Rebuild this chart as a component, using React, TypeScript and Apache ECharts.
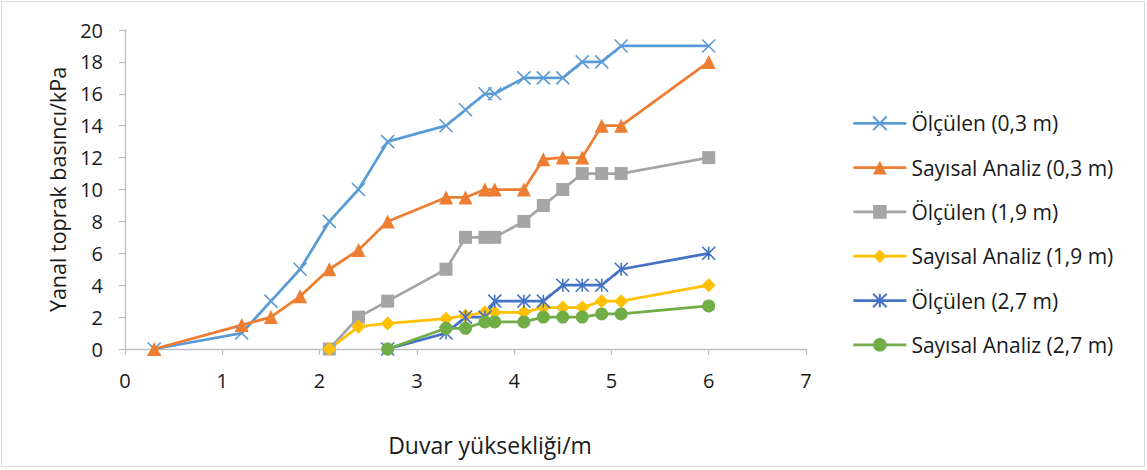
import React, { useEffect, useRef } from "react";
import * as echarts from "echarts";

const xS1 = [0.3, 1.2, 1.5, 1.8, 2.1, 2.4, 2.7, 3.3, 3.5, 3.7, 3.8, 4.1, 4.3, 4.5, 4.7, 4.9, 5.1, 6];
const olculen03 = [0, 1, 3, 5, 8, 10, 13, 14, 15, 16, 16, 17, 17, 17, 18, 18, 19, 19];
const sayisal03 = [0, 1.5, 2, 3.3, 5, 6.2, 8, 9.5, 9.5, 10, 10, 10, 11.9, 12, 12, 14, 14, 18];

const xS19 = [2.1, 2.4, 2.7, 3.3, 3.5, 3.7, 3.8, 4.1, 4.3, 4.5, 4.7, 4.9, 5.1, 6];
const olculen19 = [0, 2, 3, 5, 7, 7, 7, 8, 9, 10, 11, 11, 11, 12];
const sayisal19 = [0, 1.4, 1.6, 1.9, 2.1, 2.3, 2.3, 2.3, 2.6, 2.6, 2.6, 3, 3, 4];

const xS27 = [2.7, 3.3, 3.5, 3.7, 3.8, 4.1, 4.3, 4.5, 4.7, 4.9, 5.1, 6];
const olculen27 = [0, 1, 2, 2, 3, 3, 3, 4, 4, 4, 5, 6];
const sayisal27 = [0, 1.3, 1.3, 1.7, 1.7, 1.7, 2, 2, 2, 2.2, 2.2, 2.7];

const seriesNames = [
  "Ölçülen (0,3 m)",
  "Sayısal Analiz (0,3 m)",
  "Ölçülen (1,9 m)",
  "Sayısal Analiz (1,9 m)",
  "Ölçülen (2,7 m)",
  "Sayısal Analiz (2,7 m)",
];

const FONT = "Open Sans";

function pairs(xs: number[], ys: number[]) {
  return xs.map((x, i) => [x, ys[i]]);
}

export default function App() {
  const ref = useRef<HTMLDivElement>(null);
  useEffect(() => {
    document.body.style.margin = "0";
    const chart = echarts.init(ref.current!, null, { renderer: "svg" });
    const mk = (
      name: string,
      data: number[][],
      color: string,
      symbol: string,
      size: number,
      stroke = false
    ) => ({
      name,
      type: "line",
      data,
      symbol,
      symbolSize: size,
      showSymbol: true,
      lineStyle: { color, width: 2.75 },
      itemStyle: stroke
        ? { color, borderColor: color, borderWidth: 1.6 }
        : { color, borderWidth: 0 },
      emphasis: { disabled: true },
    });
    chart.setOption({
      animation: false,
      backgroundColor: "#ffffff",
      graphic: [
        {
          type: "rect",
          shape: { x: 1.5, y: 1.5, width: 1143, height: 465 },
          style: { fill: "none", stroke: "#d9d9d9", lineWidth: 1 },
          silent: true,
        },
      ],
      grid: { left: 125, top: 30, width: 681, height: 319, containLabel: false },
      legend: {
        orient: "vertical",
        left: 852,
        top: 112.8,
        padding: 0,
        itemWidth: 53,
        itemHeight: 17,
        itemGap: 23.3,
        data: seriesNames,
        lineStyle: { width: 2.75 },
        textStyle: { fontFamily: FONT, fontSize: 21, color: "#1a1a1a" },
      },
      xAxis: {
        type: "value",
        min: 0,
        max: 7,
        interval: 1,
        name: "Duvar yüksekliği/m",
        nameLocation: "middle",
        nameGap: 84.5,
        nameTextStyle: {
          fontFamily: FONT,
          fontSize: 23,
          color: "#1a1a1a",
          padding: [0, 0, 0, 49],
        },
        axisLine: { show: true, lineStyle: { color: "#bfbfbf", width: 1.3 } },
        axisTick: { show: true, length: 6, lineStyle: { color: "#bfbfbf", width: 1.3 } },
        splitLine: { show: false },
        axisLabel: { fontFamily: FONT, fontSize: 20, color: "#1a1a1a", margin: 21 },
      },
      yAxis: {
        type: "value",
        min: 0,
        max: 20,
        interval: 2,
        name: "Yanal toprak basıncı/kPa",
        nameLocation: "middle",
        nameGap: 57,
        nameTextStyle: { fontFamily: FONT, fontSize: 21.5, color: "#1a1a1a" },
        axisLine: { show: true, lineStyle: { color: "#bfbfbf", width: 1.3 } },
        axisTick: { show: true, length: 6, lineStyle: { color: "#bfbfbf", width: 1.3 } },
        splitLine: { show: false },
        axisLabel: { fontFamily: FONT, fontSize: 20, color: "#1a1a1a", margin: 22 },
      },
      series: [
        mk(seriesNames[0], pairs(xS1, olculen03), "#5b9bd5", "path://M0,0L10,10M10,0L0,10", 13, true),
        mk(seriesNames[1], pairs(xS1, sayisal03), "#ed7d31", "triangle", 14),
        mk(seriesNames[2], pairs(xS19, olculen19), "#a5a5a5", "rect", 13),
        mk(seriesNames[3], pairs(xS19, sayisal19), "#ffc000", "diamond", 14),
        mk(seriesNames[4], pairs(xS27, olculen27), "#4472c4", "path://M0,0L10,10M10,0L0,10M5,0L5,10", 13, true),
        mk(seriesNames[5], pairs(xS27, sayisal27), "#70ad47", "circle", 13),
      ],
    });
    return () => chart.dispose();
  }, []);
  return (
    <div
      ref={ref}
      style={{ position: "fixed", left: 0, top: 0, width: 1147, height: 470 }}
    />
  );
}
